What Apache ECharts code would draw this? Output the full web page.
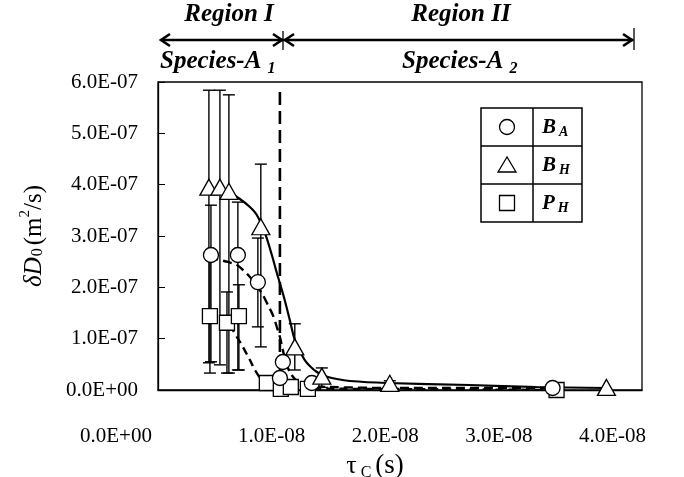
<!DOCTYPE html>
<html>
<head>
<meta charset="utf-8">
<script src="https://cdn.jsdelivr.net/npm/echarts@6/dist/echarts.min.js"></script>
<style>
  html, body { margin: 0; padding: 0; background: #fff; overflow: hidden; }
  #chart { width: 684px; height: 477px; }
</style>
</head>
<body>
<div id="chart"></div>
<script>
// Correlation time tau_C (s) and diffusion increment dD0 (m^2/s)

// B_A  (circles)
const tauBA   = [0.466e-8, 0.703e-8, 0.879e-8, 1.099e-8, 1.073e-8, 1.354e-8, 3.473e-8];
const dBA     = [2.63e-7, 2.63e-7, 2.10e-7, 0.545e-7, 0.234e-7, 0.136e-7, 0.039e-7];
const errLoBA = [0.55e-7, 0.39e-7, 1.23e-7, null, null, null, null];
const errHiBA = [3.60e-7, 3.66e-7, 2.96e-7, null, null, null, null];

// B_H  (triangles)
const tauBH   = [0.448e-8, 0.545e-8, 0.624e-8, 0.905e-8, 1.204e-8, 1.442e-8, 2.040e-8, 3.947e-8];
const dBH     = [3.95e-7, 3.95e-7, 3.87e-7, 3.18e-7, 0.84e-7, 0.27e-7, 0.13e-7, 0.05e-7];
const errLoBH = [0.53e-7, 0.49e-7, 0.33e-7, 0.84e-7, 0.39e-7, 0.05e-7, 0.0, null];
const errHiBH = [5.84e-7, 5.84e-7, 5.75e-7, 4.40e-7, 1.29e-7, 0.43e-7, 0.18e-7, null];

// P_H  (squares)
const tauPH   = [0.457e-8, 0.607e-8, 0.712e-8, 0.958e-8, 1.081e-8, 1.169e-8, 1.319e-8, 3.508e-8];
const dPH     = [1.44e-7, 1.31e-7, 1.44e-7, 0.136e-7, 0.02e-7, 0.058e-7, 0.02e-7, 0.0];
const errLoPH = [0.33e-7, 0.33e-7, 0.39e-7, null, null, null, null, null];
const errHiPH = [2.60e-7, 1.91e-7, 2.05e-7, null, null, null, null, null];

// Fitted curves
const fitBHx = [0.624, 0.721, 0.809, 0.870, 0.941, 1.002, 1.046, 1.108, 1.160, 1.204, 1.248, 1.292, 1.336, 1.398, 1.468, 1.574, 1.688, 2.013, 2.743, 3.332, 3.947].map(v => v * 1e-8);
const fitBHy = [3.857, 3.721, 3.565, 3.409, 3.059, 2.630, 2.279, 1.812, 1.364, 0.974, 0.760, 0.584, 0.468, 0.351, 0.273, 0.214, 0.175, 0.136, 0.097, 0.058, 0.039].map(v => v * 1e-7);

const fitBAx = [0.457, 0.519, 0.615, 0.695, 0.747, 0.809, 0.870, 0.923, 0.967, 1.011, 1.046, 1.073, 1.099, 1.125, 1.160, 1.213, 1.292, 1.512, 2.127, 3.446].map(v => v * 1e-8);
const fitBAy = [2.611, 2.552, 2.494, 2.435, 2.338, 2.201, 2.026, 1.851, 1.656, 1.461, 1.227, 1.032, 0.779, 0.545, 0.351, 0.195, 0.097, 0.058, 0.039, 0.039].map(v => v * 1e-7);

const fitPHx = [0.633, 0.695, 0.747, 0.809, 0.853, 0.914, 0.985, 1.160, 2.127, 3.499].map(v => v * 1e-8);
const fitPHy = [1.266, 1.032, 0.838, 0.584, 0.390, 0.195, 0.097, 0.039, 0.019, 0.0].map(v => v * 1e-7);

// Region boundary
const boundaryTau = 1.073e-8;
const boundaryD = [0, 5.9e-7];

// Axis ticks
const xTicks = { min: 0, max: 4.26e-8, interval: 1e-8 };
const yTicks = { min: 0, max: 6e-7, interval: 1e-7 };

const FONT = "'Liberation Serif', 'Times New Roman', serif";

function sci(v) {
  if (Math.abs(v) < 1e-30) return '0.0E+00';
  const e = Math.floor(Math.log10(Math.abs(v)) + 1e-9);
  const m = v / Math.pow(10, e);
  const es = (e < 0 ? '-' : '+') + String(Math.abs(e)).padStart(2, '0');
  return m.toFixed(1) + 'E' + es;
}

function pairs(xs, ys) { return xs.map((x, i) => [x, ys[i]]); }
function errData(xs, lo, hi) {
  const out = [];
  xs.forEach((x, i) => { if (lo[i] !== null && hi[i] !== null) out.push([x, lo[i], hi[i]]); });
  return out;
}

function errorBarSeries(data) {
  return {
    type: 'custom',
    data: data,
    encode: { x: 0, y: [1, 2] },
    z: 1,
    silent: true,
    renderItem: function (params, api) {
      const x = api.value(0);
      const pLo = api.coord([x, api.value(1)]);
      const pHi = api.coord([x, api.value(2)]);
      const cw = 6;
      const st = { stroke: '#000', lineWidth: 1.4 };
      return {
        type: 'group',
        children: [
          { type: 'line', shape: { x1: pLo[0], y1: pLo[1], x2: pHi[0], y2: pHi[1] }, style: st },
          { type: 'line', shape: { x1: pLo[0] - cw, y1: pLo[1], x2: pLo[0] + cw, y2: pLo[1] }, style: st },
          { type: 'line', shape: { x1: pHi[0] - cw, y1: pHi[1], x2: pHi[0] + cw, y2: pHi[1] }, style: st }
        ]
      };
    }
  };
}

const markerStyle = { color: '#fff', borderColor: '#000', borderWidth: 1.3, opacity: 1 };

const chart = echarts.init(document.getElementById('chart'), null, { renderer: 'canvas' });

// legend table geometry
const LT = { x: 481, y: 108, w: 101, rowH: 38, col: 52 };

function legendRow(i, symbol, sub) {
  const cy = LT.y + LT.rowH * i + LT.rowH / 2;
  const sx = LT.x + LT.col / 2;
  let shapeEl;
  if (symbol === 'circle') {
    shapeEl = { type: 'circle', shape: { cx: sx, cy: cy, r: 7.5 } };
  } else if (symbol === 'triangle') {
    shapeEl = { type: 'polygon', shape: { points: [[sx, cy - 8], [sx - 9, cy + 7], [sx + 9, cy + 7]] } };
  } else {
    shapeEl = { type: 'rect', shape: { x: sx - 7.5, y: cy - 7.5, width: 15, height: 15 } };
  }
  shapeEl.style = { fill: '#fff', stroke: '#000', lineWidth: 1.3 };
  return [
    shapeEl,
    {
      type: 'text',
      x: LT.x + LT.col + 9,
      y: cy + 1,
      style: {
        text: '{b|' + sub[0] + '}{s|' + sub[1] + '}',
        verticalAlign: 'middle',
        rich: {
          b: { fontFamily: FONT, fontSize: 21, fontWeight: 'bold', fontStyle: 'italic', fill: '#000', lineHeight: 22, verticalAlign: 'top' },
          s: { fontFamily: FONT, fontSize: 14, fontWeight: 'bold', fontStyle: 'italic', fill: '#000', lineHeight: 14, padding: [10, 0, 0, 3], verticalAlign: 'bottom' }
        }
      }
    }
  ];
}

function arrowHead(x, y, dir) {
  // open chevron, dir = -1 pointing left, +1 pointing right
  return {
    type: 'polyline',
    shape: { points: [[x - dir * 9, y - 6], [x, y], [x - dir * 9, y + 6]] },
    style: { stroke: '#000', lineWidth: 2.6, fill: null }
  };
}

const AY = 40;
const headStyle = { fontFamily: FONT, fontSize: 25, fontWeight: 'bold', fontStyle: 'italic', fill: '#000' };
function speciesText(x, idx) {
  return {
    type: 'text', x: x, y: 63,
    style: {
      text: '{t|Species-A }{s|' + idx + '}', verticalAlign: 'middle',
      rich: {
        t: Object.assign({ lineHeight: 28, verticalAlign: 'top' }, headStyle),
        s: { fontFamily: FONT, fontSize: 16, fontWeight: 'bold', fontStyle: 'italic', fill: '#000', lineHeight: 16, padding: [14, 0, 0, 0], verticalAlign: 'bottom' }
      }
    }
  };
}

const annotations = [
  { type: 'line', shape: { x1: 161, y1: AY, x2: 283, y2: AY }, style: { stroke: '#000', lineWidth: 2.6 } },
  { type: 'line', shape: { x1: 283, y1: AY, x2: 633, y2: AY }, style: { stroke: '#000', lineWidth: 2.6 } },
  arrowHead(161, AY, -1), arrowHead(282, AY, 1), arrowHead(285, AY, -1), arrowHead(632, AY, 1),
  { type: 'line', shape: { x1: 283, y1: AY - 9, x2: 283, y2: AY + 10 }, style: { stroke: '#000', lineWidth: 1.3 } },
  { type: 'line', shape: { x1: 634, y1: AY - 12, x2: 634, y2: AY + 10 }, style: { stroke: '#000', lineWidth: 1.3 } },
  { type: 'text', x: 229, y: 15, style: Object.assign({ text: 'Region I', align: 'center', verticalAlign: 'middle' }, headStyle) },
  { type: 'text', x: 461, y: 15, style: Object.assign({ text: 'Region II', align: 'center', verticalAlign: 'middle' }, headStyle) },
  speciesText(160, '1'),
  speciesText(402, '2'),
  // legend table
  { type: 'rect', shape: { x: LT.x, y: LT.y, width: LT.w, height: LT.rowH * 3 }, style: { fill: '#fff', stroke: '#000', lineWidth: 1.5 }, z: 10 },
  { type: 'line', shape: { x1: LT.x + LT.col, y1: LT.y, x2: LT.x + LT.col, y2: LT.y + LT.rowH * 3 }, style: { stroke: '#000', lineWidth: 1.5 }, z: 11 },
  { type: 'line', shape: { x1: LT.x, y1: LT.y + LT.rowH, x2: LT.x + LT.w, y2: LT.y + LT.rowH }, style: { stroke: '#000', lineWidth: 1.5 }, z: 11 },
  { type: 'line', shape: { x1: LT.x, y1: LT.y + LT.rowH * 2, x2: LT.x + LT.w, y2: LT.y + LT.rowH * 2 }, style: { stroke: '#000', lineWidth: 1.5 }, z: 11 }
];
[].concat(legendRow(0, 'circle', ['B', 'A']), legendRow(1, 'triangle', ['B', 'H']), legendRow(2, 'rect', ['P', 'H']))
  .forEach(el => { el.z = 12; annotations.push(el); });

const option = {
  animation: false,
  backgroundColor: '#fff',
  grid: {
    left: 158, right: 42, top: 82, bottom: 87,
    containLabel: false,
    outerBoundsMode: 'none',
    show: true, borderColor: '#000', borderWidth: 1.3, backgroundColor: 'transparent'
  },
  xAxis: {
    type: 'value',
    min: xTicks.min, max: xTicks.max, interval: xTicks.interval,
    axisLine: { show: true, onZero: false, lineStyle: { color: '#000', width: 1.3 } },
    axisTick: { show: false },
    splitLine: { show: false },
    axisLabel: {
      showMaxLabel: false,
      margin: 36,
      fontFamily: FONT, fontSize: 21, color: '#000',
      formatter: function (v) {
        if (v === 0) return '{z|' + sci(v) + '}';
        return sci(v);
      },
      rich: {
        z: { fontFamily: FONT, fontSize: 21, color: '#000', padding: [0, 84, 0, 0] }
      }
    },
    name: '{g|τ}{sub| C }{n|(s)}',
    nameLocation: 'middle',
    nameGap: 53,
    nameTextStyle: {
      rich: {
        g: { fontFamily: FONT, fontSize: 26, color: '#000', lineHeight: 28, verticalAlign: 'top' },
        sub: { fontFamily: FONT, fontSize: 16, color: '#000', lineHeight: 16, padding: [13, 0, 0, 0], verticalAlign: 'bottom' },
        n: { fontFamily: FONT, fontSize: 27, color: '#000', lineHeight: 28, verticalAlign: 'top', padding: [0, 50, 0, 0] }
      }
    }
  },
  yAxis: {
    type: 'value',
    min: yTicks.min, max: yTicks.max, interval: yTicks.interval,
    axisLine: { show: true, lineStyle: { color: '#000', width: 1.3 } },
    axisTick: { show: true, inside: true, length: 7, lineStyle: { color: '#000', width: 1 } },
    splitLine: { show: false },
    axisLabel: {
      margin: 20,
      fontFamily: FONT, fontSize: 21, color: '#000',
      formatter: function (v) { return sci(v); }
    },
    name: '{i|δD}{sub|0}{n|(m}{sup|2}{n|/s)}',
    nameLocation: 'middle',
    nameGap: 112,
    nameRotate: 90,
    nameTextStyle: {
      rich: {
        i: { fontFamily: FONT, fontSize: 25, fontStyle: 'italic', color: '#000', lineHeight: 28, verticalAlign: 'top', padding: [4, 0, 0, 0] },
        sub: { fontFamily: FONT, fontSize: 16, color: '#000', lineHeight: 16, padding: [14, 3, 0, 1], verticalAlign: 'bottom' },
        n: { fontFamily: FONT, fontSize: 25, color: '#000', lineHeight: 28, verticalAlign: 'top', padding: [4, 0, 0, 0] },
        sup: { fontFamily: FONT, fontSize: 15, color: '#000', lineHeight: 15, verticalAlign: 'top', padding: [0, 0, 16, 0] }
      }
    }
  },
  graphic: annotations,
  series: [
    errorBarSeries(errData(tauBH, errLoBH, errHiBH)),
    errorBarSeries(errData(tauBA, errLoBA, errHiBA)),
    errorBarSeries(errData(tauPH, errLoPH, errHiPH)),
    {
      type: 'line', data: pairs(fitBHx, fitBHy), smooth: 0.3, showSymbol: false, symbol: 'none', z: 3,
      lineStyle: { color: '#000', width: 2.2 }
    },
    {
      type: 'line', data: pairs(fitBAx, fitBAy), smooth: 0.3, showSymbol: false, symbol: 'none', z: 3,
      lineStyle: { color: '#000', width: 2.4, type: [9, 5] }
    },
    {
      type: 'line', data: pairs(fitPHx, fitPHy), smooth: 0.3, showSymbol: false, symbol: 'none', z: 3,
      lineStyle: { color: '#000', width: 2.4, type: [8, 5] }
    },
    {
      type: 'line', data: boundaryD.map(d => [boundaryTau, d]), showSymbol: false, symbol: 'none', z: 3,
      lineStyle: { color: '#000', width: 2.6, type: [13, 6] }
    },
    {
      type: 'scatter', data: pairs(tauPH, dPH), symbol: 'rect', symbolSize: 15, z: 5,
      itemStyle: markerStyle
    },
    {
      type: 'scatter', data: pairs(tauBA, dBA), symbol: 'circle', symbolSize: 15, z: 5,
      itemStyle: markerStyle
    },
    {
      type: 'scatter', data: pairs(tauBH, dBH), symbol: 'triangle', symbolSize: [18, 16], z: 5,
      itemStyle: markerStyle
    }
  ]
};

chart.setOption(option);
</script>
</body>
</html>
